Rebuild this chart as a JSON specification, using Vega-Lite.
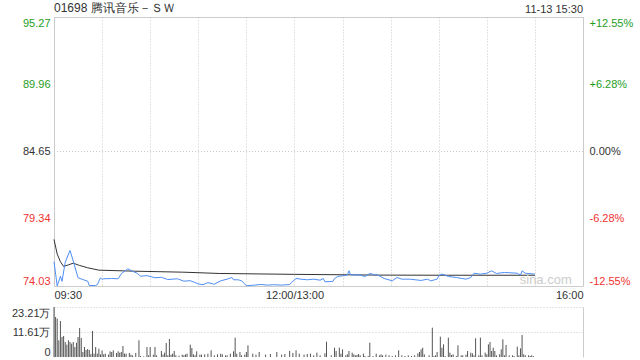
{
  "$schema": "https://vega.github.io/schema/vega-lite/v6.json",
  "autosize": {"type": "pad"},
  "padding": {"left": 11, "top": 1, "right": 5, "bottom": 5},
  "background": "white",
  "spacing": 21,
  "bounds": "flush",
  "config": {
    "view": {"stroke": "#cccccc"},
    "axis": {"labelFont": "Liberation Sans", "labelFontSize": 11, "labelColor": "#333333", "ticks": false, "domain": false},
    "text": {"font": "Liberation Sans"}
  },
  "datasets": {
    "price": [{"m":0,"p":75.95},{"m":2,"p":74.03},{"m":4,"p":74.8},{"m":5,"p":74.4},{"m":7,"p":75.9},{"m":10,"p":76.84},{"m":12,"p":76.0},{"m":15,"p":74.68},{"m":18,"p":74.54},{"m":21,"p":74.41},{"m":22,"p":74.07},{"m":26,"p":74.07},{"m":27,"p":74.13},{"m":29,"p":74.68},{"m":30,"p":74.55},{"m":31,"p":74.6},{"m":36,"p":74.62},{"m":40,"p":74.6},{"m":42,"p":75.0},{"m":46,"p":75.39},{"m":49,"p":75.2},{"m":52,"p":75.03},{"m":54,"p":74.8},{"m":58,"p":74.85},{"m":63,"p":74.68},{"m":67,"p":74.72},{"m":71,"p":74.54},{"m":77,"p":74.6},{"m":81,"p":74.41},{"m":85,"p":74.45},{"m":90,"p":74.2},{"m":93,"p":74.13},{"m":96,"p":74.3},{"m":100,"p":74.17},{"m":104,"p":74.44},{"m":108,"p":74.57},{"m":111,"p":74.7},{"m":112,"p":74.52},{"m":115,"p":74.52},{"m":117,"p":74.44},{"m":120,"p":74.05},{"m":125,"p":74.1},{"m":129,"p":74.15},{"m":133,"p":74.1},{"m":137,"p":74.13},{"m":142,"p":74.1},{"m":147,"p":74.15},{"m":149,"p":74.4},{"m":151,"p":74.62},{"m":154,"p":74.57},{"m":158,"p":74.52},{"m":162,"p":74.57},{"m":166,"p":74.49},{"m":168,"p":74.62},{"m":169,"p":74.36},{"m":174,"p":74.4},{"m":175,"p":74.62},{"m":177,"p":74.78},{"m":180,"p":74.84},{"m":183,"p":74.89},{"m":184,"p":75.23},{"m":185,"p":74.92},{"m":191,"p":74.89},{"m":194,"p":74.78},{"m":197,"p":75.02},{"m":200,"p":74.92},{"m":202,"p":74.89},{"m":206,"p":74.62},{"m":211,"p":74.44},{"m":214,"p":74.7},{"m":217,"p":74.57},{"m":222,"p":74.57},{"m":229,"p":74.47},{"m":233,"p":74.57},{"m":235,"p":74.44},{"m":239,"p":74.57},{"m":240,"p":74.84},{"m":242,"p":74.97},{"m":244,"p":74.89},{"m":246,"p":74.78},{"m":251,"p":74.7},{"m":257,"p":74.57},{"m":260,"p":74.7},{"m":262,"p":75.04},{"m":266,"p":74.97},{"m":270,"p":75.04},{"m":273,"p":75.23},{"m":276,"p":75.02},{"m":281,"p":75.1},{"m":289,"p":75.04},{"m":291,"p":74.89},{"m":292,"p":75.23},{"m":294,"p":75.04},{"m":300,"p":74.97}],
    "avg": [{"m":0,"a":77.71},{"m":2,"a":76.55},{"m":4,"a":75.95},{"m":6,"a":75.57},{"m":9,"a":75.7},{"m":12,"a":75.83},{"m":16,"a":75.65},{"m":21,"a":75.47},{"m":28,"a":75.28},{"m":50,"a":75.2},{"m":81,"a":75.12},{"m":103,"a":75.02},{"m":150,"a":74.95},{"m":203,"a":74.89},{"m":246,"a":74.88},{"m":300,"a":74.88}],
    "vol": [{"m":0,"v":232100},{"m":1,"v":185700},{"m":2,"v":178000},{"m":3,"v":77400},{"m":4,"v":167000},{"m":5,"v":92800},{"m":6,"v":97500},{"m":7,"v":69600},{"m":8,"v":57300},{"m":9,"v":77400},{"m":10,"v":69600},{"m":11,"v":61900},{"m":12,"v":69600},{"m":13,"v":46400},{"m":14,"v":66400},{"m":15,"v":92800},{"m":16,"v":134600},{"m":17,"v":88200},{"m":18,"v":23200},{"m":19,"v":46400},{"m":20,"v":32500},{"m":21,"v":37100},{"m":22,"v":32500},{"m":23,"v":13900},{"m":24,"v":120700},{"m":25,"v":15500},{"m":26,"v":46400},{"m":27,"v":15500},{"m":28,"v":38700},{"m":29,"v":12400},{"m":30,"v":30900},{"m":31,"v":12400},{"m":32,"v":15500},{"m":34,"v":10800},{"m":35,"v":26300},{"m":36,"v":23200},{"m":37,"v":30900},{"m":39,"v":18600},{"m":40,"v":26300},{"m":41,"v":20100},{"m":42,"v":23200},{"m":43,"v":51100},{"m":44,"v":15500},{"m":45,"v":15500},{"m":47,"v":18600},{"m":48,"v":10800},{"m":49,"v":7700},{"m":51,"v":18600},{"m":53,"v":77400},{"m":54,"v":4600},{"m":56,"v":3000},{"m":58,"v":46400},{"m":59,"v":7700},{"m":60,"v":46400},{"m":62,"v":10800},{"m":63,"v":46400},{"m":64,"v":7700},{"m":67,"v":27900},{"m":68,"v":10800},{"m":69,"v":20100},{"m":70,"v":65000},{"m":71,"v":7700},{"m":72,"v":83500},{"m":73,"v":10800},{"m":74,"v":15500},{"m":75,"v":27900},{"m":76,"v":7700},{"m":78,"v":6200},{"m":80,"v":10800},{"m":81,"v":7700},{"m":82,"v":12400},{"m":83,"v":15500},{"m":85,"v":57300},{"m":86,"v":41800},{"m":87,"v":12400},{"m":88,"v":7700},{"m":89,"v":26300},{"m":91,"v":10800},{"m":92,"v":10800},{"m":94,"v":12400},{"m":96,"v":15500},{"m":98,"v":30900},{"m":100,"v":7700},{"m":102,"v":12400},{"m":104,"v":15500},{"m":105,"v":12400},{"m":107,"v":7700},{"m":108,"v":7700},{"m":110,"v":15500},{"m":112,"v":26300},{"m":113,"v":89700},{"m":114,"v":15500},{"m":116,"v":23200},{"m":117,"v":7700},{"m":119,"v":10800},{"m":120,"v":23200},{"m":121,"v":54200},{"m":124,"v":15500},{"m":126,"v":10800},{"m":128,"v":23200},{"m":132,"v":10800},{"m":135,"v":13900},{"m":139,"v":23200},{"m":142,"v":10800},{"m":144,"v":13900},{"m":147,"v":27900},{"m":149,"v":18600},{"m":151,"v":30900},{"m":153,"v":15500},{"m":156,"v":10800},{"m":158,"v":13900},{"m":160,"v":15500},{"m":162,"v":7700},{"m":164,"v":20100},{"m":166,"v":7700},{"m":169,"v":17000},{"m":170,"v":71000},{"m":173,"v":7700},{"m":175,"v":43300},{"m":176,"v":27900},{"m":178,"v":43300},{"m":179,"v":15500},{"m":180,"v":35600},{"m":182,"v":7700},{"m":183,"v":12400},{"m":184,"v":27900},{"m":186,"v":20100},{"m":187,"v":12400},{"m":188,"v":7700},{"m":189,"v":9300},{"m":190,"v":13900},{"m":191,"v":7700},{"m":193,"v":15500},{"m":194,"v":4600},{"m":196,"v":4600},{"m":197,"v":66500},{"m":199,"v":4600},{"m":201,"v":15500},{"m":203,"v":7700},{"m":204,"v":12400},{"m":205,"v":7700},{"m":207,"v":10800},{"m":209,"v":7700},{"m":211,"v":4600},{"m":213,"v":7700},{"m":215,"v":30900},{"m":217,"v":7700},{"m":219,"v":4600},{"m":221,"v":7700},{"m":223,"v":4600},{"m":225,"v":7700},{"m":227,"v":17000},{"m":228,"v":23200},{"m":229,"v":35600},{"m":230,"v":43300},{"m":231,"v":12400},{"m":234,"v":7700},{"m":236,"v":136100},{"m":237,"v":4600},{"m":238,"v":7700},{"m":239,"v":23200},{"m":241,"v":94300},{"m":242,"v":43300},{"m":243,"v":58800},{"m":244,"v":4600},{"m":246,"v":89700},{"m":247,"v":20100},{"m":248,"v":9300},{"m":249,"v":12400},{"m":251,"v":4600},{"m":252,"v":54200},{"m":254,"v":7700},{"m":255,"v":7700},{"m":257,"v":10800},{"m":258,"v":27900},{"m":260,"v":20100},{"m":261,"v":17000},{"m":262,"v":7700},{"m":263,"v":86700},{"m":265,"v":7700},{"m":266,"v":89700},{"m":267,"v":7700},{"m":269,"v":20100},{"m":270,"v":12400},{"m":271,"v":58800},{"m":272,"v":69600},{"m":273,"v":27900},{"m":274,"v":43300},{"m":275,"v":27900},{"m":276,"v":7700},{"m":278,"v":12400},{"m":279,"v":35600},{"m":280,"v":82000},{"m":281,"v":7700},{"m":282,"v":55700},{"m":284,"v":7700},{"m":286,"v":7700},{"m":287,"v":4600},{"m":289,"v":47800},{"m":290,"v":7700},{"m":291,"v":40200},{"m":292,"v":102100},{"m":293,"v":12400},{"m":294,"v":7700},{"m":296,"v":7700},{"m":297,"v":4600},{"m":298,"v":7700},{"m":299,"v":4600}],
    "labels": [{"t":"01698 腾讯音乐－ＳＷ","x":0,"y":95.27,"k":"title"},{"t":"11-13 15:30","x":330,"y":95.27,"k":"date"},{"t":"sina.com","x":323,"y":74.03,"k":"wm"}],
    "ref": [{"y": 84.65}]
  },
  "vconcat": [
    {
      "width": 529,
      "height": 269,
      "layer": [
        {
          "data": {"name": "avg"},
          "mark": {"type": "line", "color": "#333333", "strokeWidth": 1},
          "encoding": {
            "x": {"field": "m", "type": "quantitative", "scale": {"domain": [0, 330], "nice": false, "zero": false},
              "axis": {"title": null, "orient": "bottom", "values": [0,30,60,90,120,150,180,210,240,270,300,330],
                "labelExpr": "datum.value == 0 ? '09:30' : datum.value == 150 ? '12:00/13:00' : datum.value == 330 ? '16:00' : ''",
                "labelFlush": true, "labelPadding": 3, "grid": true, "gridColor": "#c8c8c8", "gridDash": [1, 2]}},
            "y": {"field": "a", "type": "quantitative", "scale": {"domain": [74.03, 95.27], "nice": false, "zero": false},
              "axis": {"title": null, "orient": "left", "values": [74.03, 79.34, 84.65, 89.96, 95.27], "format": ".2f",
                "labelFlush": true, "labelPadding": 4, "grid": false,
                "labelColor": {"condition": [{"test": "datum.value > 84.7", "value": "#1e9e1e"}, {"test": "datum.value < 84.6", "value": "#f03232"}], "value": "#333333"}}}
          }
        },
        {
          "data": {"name": "ref"},
          "mark": {"type": "rule", "color": "#c8c8c8", "strokeWidth": 1, "strokeDash": [1, 2]},
          "encoding": {
            "y": {"field": "y", "type": "quantitative", "axis": null}
          }
        },
        {
          "data": {"name": "price"},
          "mark": {"type": "line", "color": "#4f8ef5", "strokeWidth": 1},
          "encoding": {
            "x": {"field": "m", "type": "quantitative"},
            "y": {"field": "p", "type": "quantitative", "axis": null}
          }
        },
        {
          "data": {"name": "price"},
          "mark": {"type": "line", "opacity": 0},
          "encoding": {
            "x": {"field": "m", "type": "quantitative"},
            "y": {"field": "p", "type": "quantitative",
              "axis": {"title": null, "orient": "right", "values": [74.03, 79.34, 84.65, 89.96, 95.27],
                "labelExpr": "datum.value > 95 ? '+12.55%' : datum.value > 89 ? '+6.28%' : datum.value > 84 ? '0.00%' : datum.value > 79 ? '-6.28%' : '-12.55%'",
                "labelFlush": true, "labelPadding": 6, "grid": false,
                "labelColor": {"condition": [{"test": "datum.value > 84.7", "value": "#1e9e1e"}, {"test": "datum.value < 84.6", "value": "#f03232"}], "value": "#333333"}}}
          }
        },
        {
          "data": {"name": "labels"},
          "transform": [{"filter": "datum.k == 'title'"}],
          "mark": {"type": "text", "align": "left", "baseline": "bottom", "dy": -2, "fontSize": 12, "color": "#333333"},
          "encoding": {
            "x": {"field": "x", "type": "quantitative"},
            "y": {"field": "y", "type": "quantitative", "axis": null},
            "text": {"field": "t"}
          }
        },
        {
          "data": {"name": "labels"},
          "transform": [{"filter": "datum.k == 'date'"}],
          "mark": {"type": "text", "align": "right", "baseline": "bottom", "dy": -2, "fontSize": 11, "color": "#333333"},
          "encoding": {
            "x": {"field": "x", "type": "quantitative"},
            "y": {"field": "y", "type": "quantitative", "axis": null},
            "text": {"field": "t"}
          }
        },
        {
          "data": {"name": "labels"},
          "transform": [{"filter": "datum.k == 'wm'"}],
          "mark": {"type": "text", "align": "right", "baseline": "bottom", "dy": 1, "fontSize": 13, "color": "#cccccc"},
          "encoding": {
            "x": {"field": "x", "type": "quantitative"},
            "y": {"field": "y", "type": "quantitative", "axis": null},
            "text": {"field": "t"}
          }
        }
      ],
      "resolve": {"axis": {"y": "independent"}}
    },
    {
      "width": 529,
      "height": 50,
      "view": {"stroke": null},
      "layer": [
        {
          "data": {"name": "vol"},
          "mark": {"type": "rule", "color": "#555555", "strokeWidth": 1},
          "encoding": {
            "x": {"field": "m", "type": "quantitative", "scale": {"domain": [0, 330], "nice": false, "zero": false}, "axis": null},
            "y": {"field": "v", "type": "quantitative", "scale": {"domain": [0, 232100], "nice": false},
              "axis": {"title": null, "orient": "left", "values": [0, 116050, 232100],
                "labelExpr": "datum.value > 200000 ? '23.21万' : datum.value > 0 ? '11.61万' : '0'",
                "labelFlush": true, "labelPadding": 4, "domain": true, "domainColor": "#cccccc",
                "grid": true, "gridDash": [1, 2],
                "gridColor": {"condition": {"test": "datum.value == 0", "value": "transparent"}, "value": "#c8c8c8"}}},
            "y2": {"datum": 0}
          }
        },
        {
          "data": {"name": "vol"},
          "mark": {"type": "rule", "opacity": 0},
          "encoding": {
            "x": {"field": "m", "type": "quantitative"},
            "y": {"field": "v", "type": "quantitative",
              "axis": {"title": null, "orient": "right", "labels": false, "domain": true, "domainColor": "#cccccc", "grid": false}}
          }
        }
      ],
      "resolve": {"axis": {"y": "independent"}}
    }
  ]
}
